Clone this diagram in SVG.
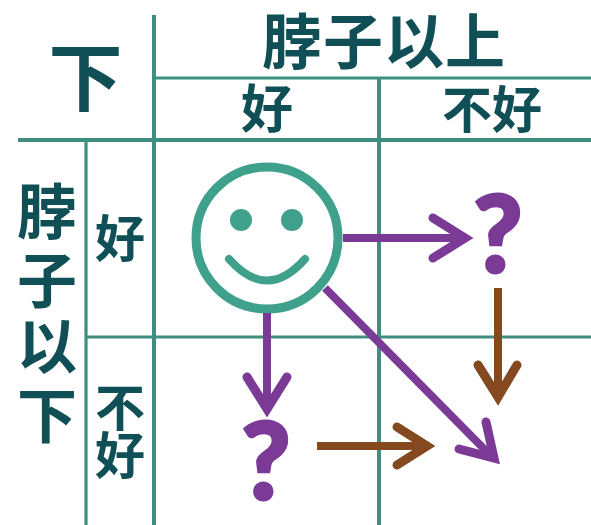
<svg xmlns="http://www.w3.org/2000/svg" width="591" height="525" viewBox="0 0 591 525">
<style>
.g{stroke:#3f8f80;fill:none}
.g1{stroke-width:4}
.g2{stroke-width:3.2}
.t{font-family:"Noto Sans CJK SC","Noto Sans",sans-serif;font-weight:700;fill:#0f4f55;text-anchor:middle}
.p{stroke:#7a3a96;fill:none}
.b{stroke:#85491f;fill:none}
.l{stroke-width:8}
.h{stroke-width:9;stroke-linecap:round;stroke-linejoin:miter;stroke-miterlimit:10}
.q{font-family:Lato,"Open Sans",sans-serif;font-weight:900;font-size:106px;fill:#7a3a96;stroke:#7a3a96;stroke-width:3;text-anchor:middle}
</style>
<rect width="591" height="525" fill="#fff"/>
<g id="grid">
<path class="g g1" d="M154 15V525M379 78V525M18 140H591"/>
<path class="g g2" d="M86 140V525M154 78H591M87 337H591"/>
</g>
<g id="labels">
<text class="t" x="85.500" y="105" font-size="74">下</text>
<text class="t" x="384" y="64" font-size="60" letter-spacing="1">脖子以上</text>
<text class="t" x="267" y="128" font-size="52">好</text>
<text class="t" x="492" y="128" font-size="50">不好</text>
<text class="t" x="47" y="234" font-size="60">脖</text>
<text class="t" x="47" y="303" font-size="60">子</text>
<text class="t" x="47" y="369" font-size="60">以</text>
<text class="t" x="47" y="438" font-size="60">下</text>
<text class="t" x="120" y="257" font-size="50">好</text>
<text class="t" x="120" y="426" font-size="50">不</text>
<text class="t" x="120" y="474" font-size="50">好</text>
</g>
<g id="smiley">
<circle cx="267" cy="238" r="71" fill="none" stroke="#3fa08c" stroke-width="9"/>
<circle cx="241" cy="220" r="11" fill="#3fa08c"/>
<circle cx="292" cy="220" r="11" fill="#3fa08c"/>
<path d="M229 259Q267 302 305 259" fill="none" stroke="#3fa08c" stroke-width="8" stroke-linecap="round"/>
</g>
<g id="q1"><text class="q" x="498" y="272">?</text></g>
<g id="q2"><text class="q" x="266" y="499">?</text></g>
<g id="connectors">
<path class="p l" d="M343 238H465"/>
<path class="p h" d="M433 218L465 238L433 258"/>
<path class="p l" d="M267 313V409"/>
<path class="p h" d="M247 377L267 409L287 377"/>
<path class="p l" d="M325 288L493 458"/>
<path class="p h" d="M486 422L494 458L459 449"/>
<path class="b l" d="M498 288V397"/>
<path class="b h" d="M478 365L498 397L517 365"/>
<path class="b l" d="M317 446H427"/>
<path class="b h" d="M397 427L427 446L397 465"/>
</g>
</svg>
